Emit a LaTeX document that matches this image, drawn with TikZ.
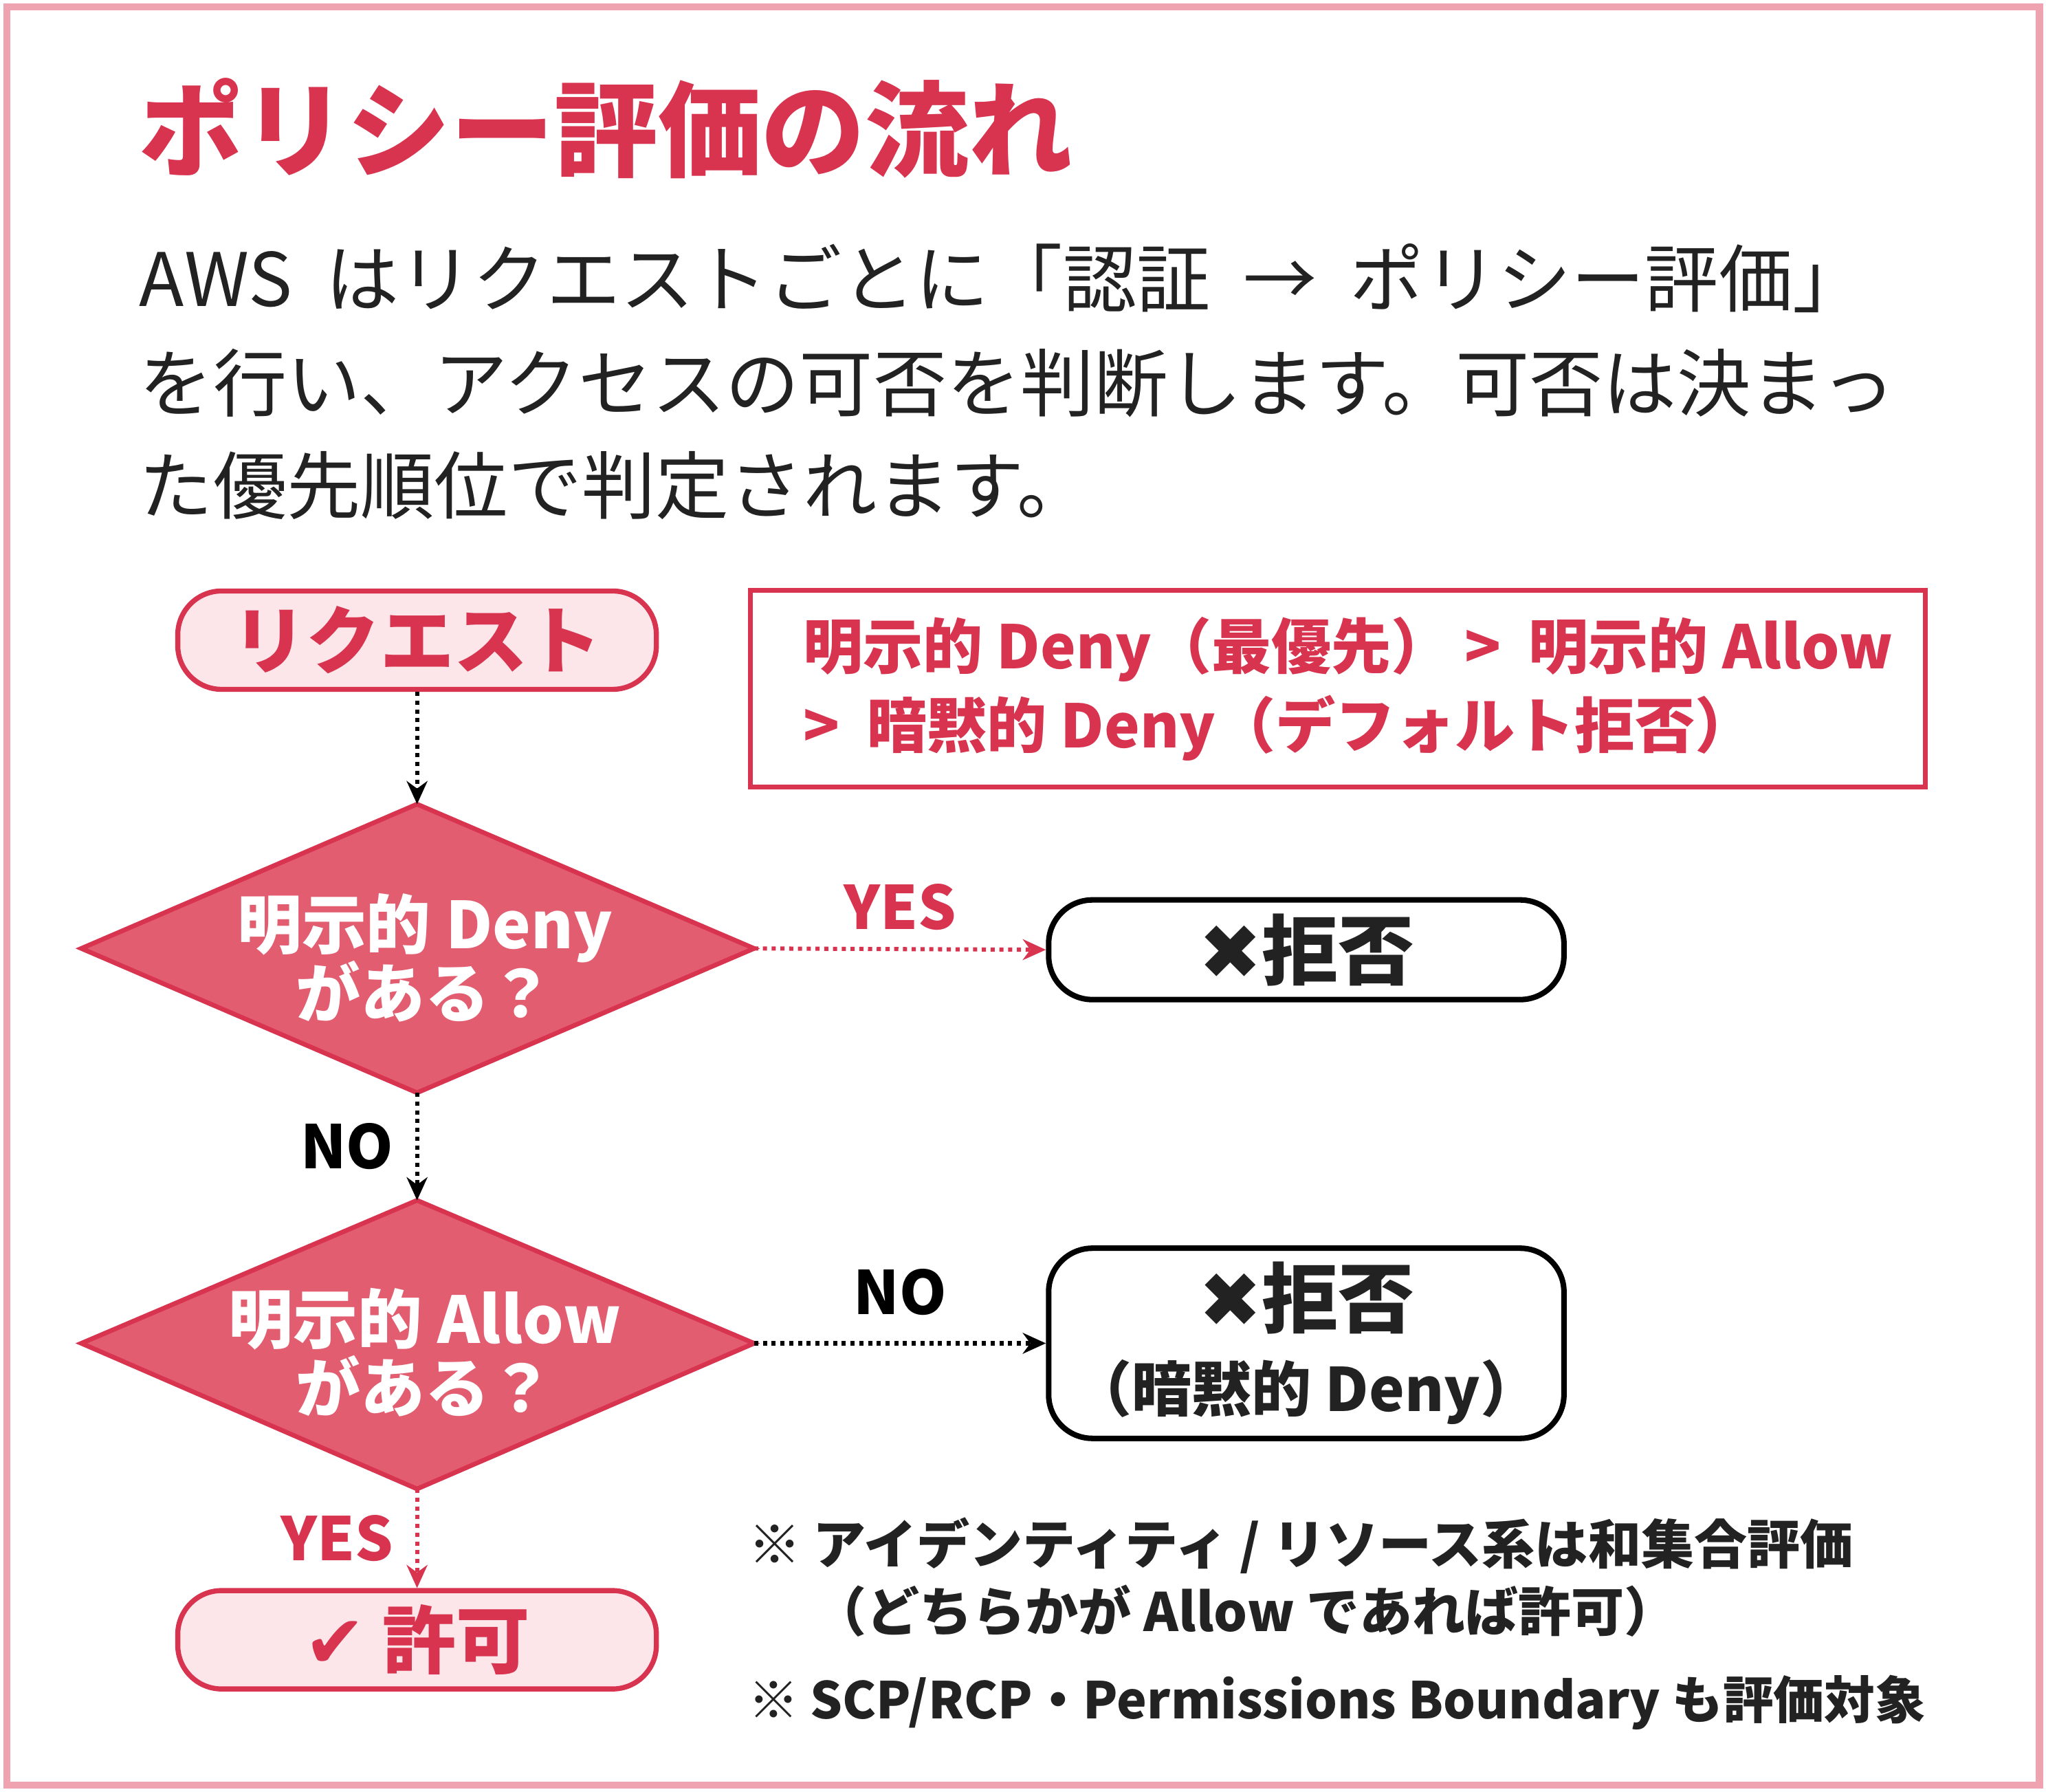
\documentclass[tikz,border=0pt]{standalone}
\usepackage{fontspec}
\setmainfont{Noto Sans CJK JP}
\newfontfamily\symfont{DejaVu Sans}
\usetikzlibrary{shapes.geometric,arrows.meta,positioning}
\definecolor{accent}{HTML}{D8334F}
\definecolor{frame}{HTML}{EFA3B0}
\definecolor{softpink}{HTML}{FCE6EA}
\definecolor{dfill}{HTML}{E35D70}
\definecolor{ink}{HTML}{222222}
\tikzset{
  start/.style={draw=accent,line width=2.2pt,fill=softpink,rounded corners=19pt,
    minimum width=7.3cm,minimum height=1.5cm,text=accent,font=\fontsize{32}{36}\selectfont\bfseries},
  decide/.style={draw=accent,line width=2pt,fill=dfill},
  dtext/.style={text=white,align=center,font=\fontsize{28}{34}\selectfont\bfseries},
  result/.style={draw=black,line width=2.4pt,rounded corners=19pt,fill=white,
    minimum width=7.86cm,text=ink,align=center},
  flow/.style={line width=1.8pt,dotted,-{Stealth[length=10pt,width=9pt]}},
  lbl/.style={font=\fontsize{26}{30}\selectfont\bfseries}
}
\begin{document}
\begin{tikzpicture}[x=0.02cm,y=-0.02cm]
  \useasboundingbox (0,0) rectangle (1560,1366);
  \draw[frame,line width=3pt] (5,5) rectangle (1555,1361);

  %title
  \node[anchor=west,text=accent,font=\fontsize{45}{50}\selectfont\bfseries,inner sep=0pt] (title) at (106,98) {ポリシー評価の流れ};

  %intro
  \node[anchor=west,text=ink,font=\fontsize{32}{36}\selectfont,inner sep=0pt] (line1) at (106,212) {AWS\ \ はリクエストごとに「認証\ \ →\ \ ポリシー評価」};
  \node[anchor=west,text=ink,font=\fontsize{32}{36}\selectfont,inner sep=0pt] (line2) at (106,292) {を行い、アクセスの可否を判断します。可否は決まっ};
  \node[anchor=west,text=ink,font=\fontsize{32}{36}\selectfont,inner sep=0pt] (line3) at (106,370) {た優先順位で判定されます。};

  %priority box
  \draw[accent,line width=2.2pt] (572,450) rectangle (1468,600);
  \node[anchor=west,text=accent,font=\fontsize{26}{30}\selectfont\bfseries,inner sep=0pt] (prio1) at (612,495) {明示的 Deny（最優先）\ > \ 明示的 Allow};
  \node[anchor=west,text=accent,font=\fontsize{26}{30}\selectfont\bfseries,inner sep=0pt] (prio2) at (612,555) {> \ 暗黙的 Deny（デフォルト拒否）};

  %diamonds
  \coordinate (dtop) at (318,613);  \coordinate (dbot) at (318,833);
  \coordinate (dleft) at (62,723);  \coordinate (dright) at (575,723);
  \draw[decide] (dtop) -- (dright) -- (dbot) -- (dleft) -- cycle;
  \node[dtext] (deny) at (324,730) {明示的 Deny\\[-4pt]がある？};

  \coordinate (atop) at (318,915);  \coordinate (abot) at (318,1135);
  \coordinate (aleft) at (62,1024); \coordinate (aright) at (575,1024);
  \draw[decide] (atop) -- (aright) -- (abot) -- (aleft) -- cycle;
  \node[dtext] (allow) at (324,1031) {明示的 Allow\\[-4pt]がある？};

  %terminals
  \node[start] (req) at (318,488) {リクエスト};
  \node[result,minimum height=1.52cm,font=\fontsize{33}{38}\selectfont\bfseries] (rej1) at (996,724) {{\symfont ✖}拒否};
  \node[result,minimum height=2.9cm] (rej2) at (996,1024) {{\fontsize{33}{38}\selectfont\bfseries{\symfont ✖}拒否}\\[10pt]{\fontsize{26}{30}\selectfont\bfseries（暗黙的 Deny）}};
  \node[start] (ok) at (318,1250) {{\symfont ✔} 許可};

  \draw[flow] (req) -- (dtop);
  \draw[flow,accent] (dright) -- node[above=4pt,lbl] {YES} (rej1.west);
  \draw[flow] (dbot) -- node[left=6pt,lbl] {NO} (atop);
  \draw[flow] (aright) -- node[above=8pt,lbl] {NO} (rej2.west);
  \draw[flow,accent] (abot) -- node[left=6pt,lbl,text=accent] {YES} (ok.north);

  %notes
  \node[anchor=west,text=ink,font=\fontsize{23}{28}\selectfont\bfseries,inner sep=0pt] (note1) at (570,1178) {※ アイデンティティ / リソース系は和集合評価};
  \node[anchor=west,text=ink,font=\fontsize{23}{28}\selectfont\bfseries,inner sep=0pt] (note2) at (620,1228) {（どちらかが Allow であれば許可）};
  \node[anchor=west,text=ink,font=\fontsize{22}{28}\selectfont\bfseries,inner sep=0pt] (note3) at (570,1298) {※ SCP/RCP・Permissions Boundary も評価対象};
\end{tikzpicture}
\end{document}
